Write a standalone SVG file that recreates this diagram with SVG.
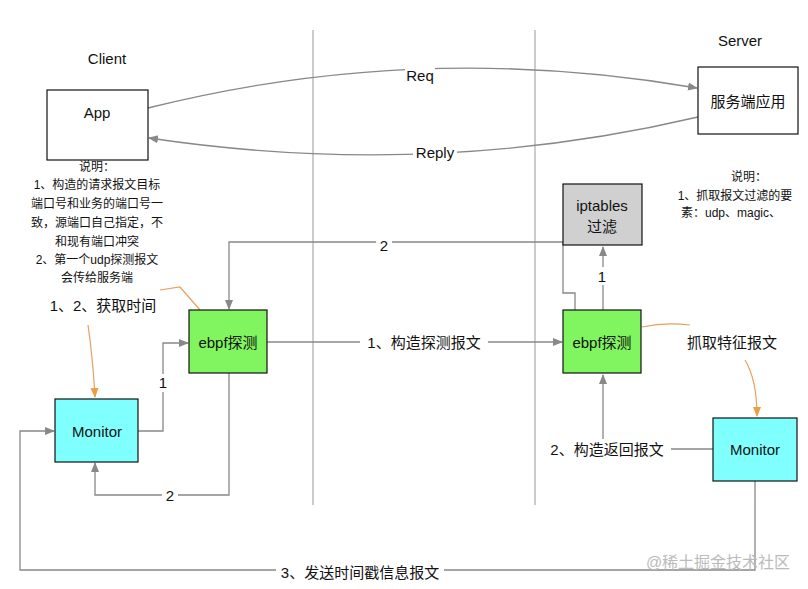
<svg xmlns="http://www.w3.org/2000/svg" width="808" height="589" viewBox="0 0 808 589">
<style>
text{font-family:"Liberation Sans","Noto Sans CJK SC",sans-serif;fill:#111;text-anchor:middle;dominant-baseline:central}
.box{stroke:#111;stroke-width:1.2}
.c{fill:none;stroke:#888;stroke-width:1.3}
.o{fill:none;stroke:#e8a060;stroke-width:1.2}
.lb{font-size:15px}
.n{font-size:12px}
</style>
<defs>
<marker id="a" markerWidth="10" markerHeight="10" refX="9" refY="5" orient="auto" markerUnits="userSpaceOnUse"><path d="M0,1 L10,5 L0,9 Z" fill="#888"/></marker>
<marker id="ao" markerWidth="10" markerHeight="10" refX="9" refY="5" orient="auto" markerUnits="userSpaceOnUse"><path d="M0,1 L10,5 L0,9 Z" fill="#e8a040"/></marker>
</defs>
<rect width="808" height="589" fill="#fff"/>
<line x1="313" y1="30" x2="313" y2="505" stroke="#aaa" stroke-width="1.2"/>
<line x1="535" y1="30" x2="535" y2="505" stroke="#aaa" stroke-width="1.2"/>
<text x="107" y="58" class="lb">Client</text>
<text x="740" y="40" class="lb">Server</text>
<g id="connectors">
<path class="c" d="M148,108 Q420,40 697,88" marker-end="url(#a)"/>
<path class="c" d="M698,117 Q430,180 149,138" marker-end="url(#a)"/>
<path class="c" d="M138,431 H163 V343 H188" marker-end="url(#a)"/>
<path class="c" d="M575,310 V293 H563 V242 H229 V309" marker-end="url(#a)"/>
<path class="c" d="M229,373 V495 H95 V463" marker-end="url(#a)"/>
<path class="c" d="M267,342 H562" marker-end="url(#a)"/>
<path class="c" d="M603,310 V247" marker-end="url(#a)"/>
<path class="c" d="M713,449 H603 V375" marker-end="url(#a)"/>
<path class="c" d="M755,481 V570 H20 V431 H54" marker-end="url(#a)"/>
<path class="o" d="M160,290 L180,287 L200,310"/>
<path class="o" d="M88,325 Q93,360 95,397" marker-end="url(#ao)"/>
<path class="o" d="M642,327 Q665,322 690,325"/>
<path class="o" d="M745,360 Q757,380 757,416" marker-end="url(#ao)"/>
<rect x="405" y="66" width="30" height="18" fill="#fff"/>
<text x="420" y="75" class="lb">Req</text>
<rect x="413" y="143" width="44" height="18" fill="#fff"/>
<text x="435" y="152" class="lb">Reply</text>
<rect x="155" y="374" width="16" height="18" fill="#fff"/>
<text x="163" y="382" class="lb">1</text>
<rect x="376" y="236" width="16" height="18" fill="#fff"/>
<text x="384" y="245" class="lb">2</text>
<rect x="162" y="486" width="16" height="18" fill="#fff"/>
<text x="170" y="495" class="lb">2</text>
<rect x="360" y="332" width="128" height="20" fill="#fff"/>
<text x="424" y="342" class="lb">1、构造探测报文</text>
<rect x="595" y="267" width="16" height="18" fill="#fff"/>
<text x="602" y="276" class="lb">1</text>
<rect x="543" y="439" width="128" height="20" fill="#fff"/>
<text x="607" y="449" class="lb">2、构造返回报文</text>
<rect x="276" y="562" width="168" height="20" fill="#fff"/>
<text x="360" y="572" class="lb">3、发送时间戳信息报文</text>
</g>
<g id="app"><rect class="box" x="47" y="90" width="101" height="70" fill="#fff"/><text x="97" y="112" class="lb">App</text></g>
<g id="server"><rect class="box" x="698" y="67" width="100" height="67" fill="#fff"/><text x="748" y="101" class="lb">服务端应用</text></g>
<g id="note-left" class="n">
<text x="97" y="167" class="n">说明：</text>
<text x="97" y="185" class="n">1、构造的请求报文目标</text>
<text x="97" y="204" class="n">端口号和业务的端口号一</text>
<text x="97" y="223" class="n">致，源端口自己指定，不</text>
<text x="97" y="242" class="n">和现有端口冲突</text>
<text x="97" y="260" class="n">2、第一个udp探测报文</text>
<text x="97" y="278" class="n">会传给服务端</text>
</g>
<g id="note-right">
<text x="749" y="177" class="n">说明：</text>
<text x="735" y="196" class="n">1、抓取报文过滤的要</text>
<text x="731" y="213" class="n">素：udp、magic、</text>
</g>
<g id="gettime"><text x="103" y="305" class="lb">1、2、获取时间</text></g>
<g id="capture"><text x="732" y="342" class="lb">抓取特征报文</text></g>
<g id="ebpf-left"><rect class="box" x="189" y="310" width="78" height="63" fill="#80f560"/><text x="228" y="342" class="lb">ebpf探测</text></g>
<g id="monitor-left"><rect class="box" x="55" y="399" width="83" height="63" fill="#80ffff"/><text x="97" y="431" class="lb">Monitor</text></g>
<g id="ebpf-right"><rect class="box" x="563" y="310" width="78" height="63" fill="#80f560"/><text x="602" y="342" class="lb">ebpf探测</text></g>
<g id="iptables"><rect class="box" x="563" y="184" width="79" height="61" fill="#d0d0d0"/><text x="602" y="205" class="lb">iptables</text><text x="602" y="226" class="lb">过滤</text></g>
<g id="monitor-right"><rect class="box" x="713" y="418" width="84" height="63" fill="#80ffff"/><text x="755" y="449" class="lb">Monitor</text></g>
<text x="718" y="562" style="font-size:16px;fill:#bbb">@稀土掘金技术社区</text>
</svg>
